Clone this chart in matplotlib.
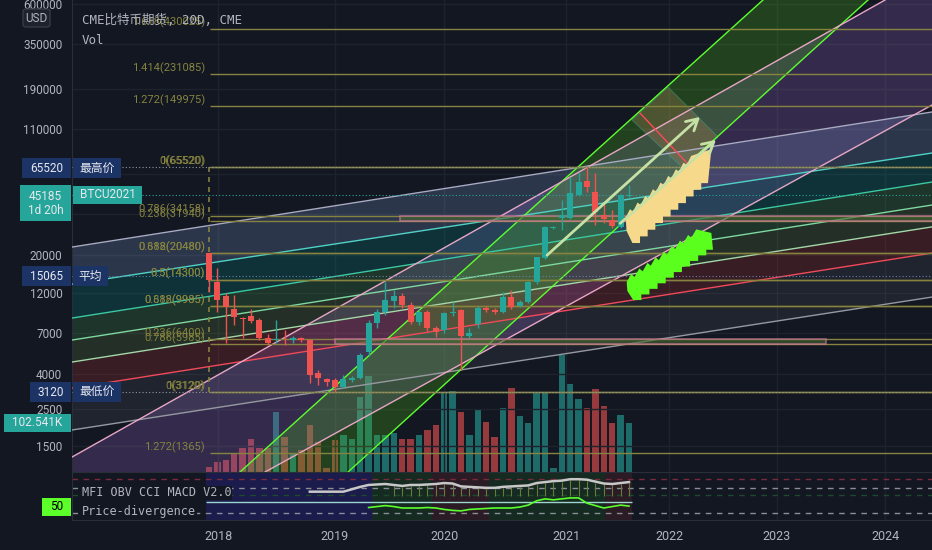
import numpy as np
import matplotlib.pyplot as plt
from matplotlib.patches import Rectangle, Polygon, FancyBboxPatch

plt.rcParams['font.family'] = ['Roboto', 'Noto Sans CJK SC', 'DejaVu Sans']

# ---------------------------------------------------------------
# data : CME bitcoin futures, 20 day bars (bar index 0 = Dec 2017)
# ---------------------------------------------------------------
opens = [20570, 13880, 11490, 9630, 8550, 8760, 8300, 6500, 6330, 6450,
         6330, 6480, 6350, 4050, 3750, 3700, 3350, 3700, 3800, 5370,
         7970, 9250, 10700, 11490, 10170, 8090, 9250, 7450, 7250, 9100,
         9500, 6700, 7830, 9760, 9500, 9250, 11350, 10060, 10610, 13880,
         19200, 28900, 33000, 33000, 45100, 54500, 47000, 34400, 32100, 29300,
         44500]
highs = [20570, 16800, 12000, 11680, 8600, 9630, 8500, 6870, 8300, 7250,
         6700, 6600, 6450, 4220, 3800, 3800, 3950, 3900, 5300, 8300,
         9600, 13880, 12460, 12000, 10600, 9600, 9500, 7700, 9300, 10600,
         9700, 7500, 10100, 10000, 9800, 12130, 12460, 10900, 14100, 19600,
         29500, 29800, 42200, 57500, 60800, 65520, 60800, 40500, 36800, 46000,
         51700]
lows = [12130, 9250, 6075, 7760, 6500, 7970, 6330, 5900, 6075, 5900,
        6075, 6200, 3560, 3440, 3400, 3120, 3300, 3600, 3750, 5100,
        7500, 8900, 9800, 9800, 7900, 7800, 7200, 6600, 7000, 8800,
        4220, 6500, 7500, 9300, 9000, 9100, 9700, 9900, 10400, 13600,
        18900, 28500, 28100, 32500, 44500, 47000, 30000, 30900, 28900, 29000,
        43900]
closes = [14260, 10880, 9900, 8650, 8450, 8190, 6500, 6075, 6450, 6380,
          6500, 6350, 3940, 3800, 3570, 3350, 3750, 3800, 5180, 7970,
          9250, 10880, 11490, 10170, 8090, 9250, 7450, 7060, 9120, 9250,
          6670, 6960, 9760, 9500, 9300, 11350, 9900, 10610, 13880, 19500,
          29300, 29300, 34400, 46400, 53700, 50300, 35800, 32500, 29600, 45100,
          45185]
volumes = [10500, 21000, 25000, 40000, 50000, 69000, 50000, 50000, 126000, 73000,
           40000, 46000, 98000, 63000, 8000, 67000, 77000, 69000, 157000, 200000,
           77000, 77000, 82000, 69000, 69000, 77000, 88000, 98000, 167000, 170000,
           126000, 77000, 132000, 105000, 73000, 134000, 176000, 117000, 102000, 165000,
           167000, 8000, 245000, 184000, 153000, 134000, 174000, 138000, 102000, 119000,
           102541]

# indicator pane (0..100 scale)
obv_start = 12
obv_line = [59, 59, 59, 59, 59, 64, 69, 73, 74, 75, 73, 71, 73, 73, 74, 75, 77, 76,
            70, 69, 68, 67, 67, 69, 70, 71, 72, 77, 79, 81, 82, 85, 85, 84, 80, 76,
            75, 77, 79]
osc_start = 19
osc_line = [26, 28, 30, 28, 25, 25, 25, 26, 25, 22, 20, 19, 22, 23, 24, 25, 25, 25,
            27, 31, 40, 44, 42, 44, 46, 46, 35, 30, 25, 28, 31, 29]

# axis ticks ('' = grid only, label hidden behind the price tags)
price_ticks = [1500, 2500, 4000, 7000, 12000, 20000, 35000, 60000, 110000,
               190000, 350000, 600000]
price_tick_labels = ['1500', '2500', '4000', '7000', '12000', '20000', '', '',
                     '110000', '190000', '350000', '600000']
year_labels = ['2018', '2019', '2020', '2021', '2022', '2023', '2024']
year_bars = [1.1, 15.0, 28.0, 42.5, 54.8, 67.6, 80.5]

# fibonacci retracement tools (log scale, 3120 -> 65520)
fib_up = [('0(3120)', 3120), ('0.236(6400)', 6400), ('0.382(9985)', 9985),
          ('0.5(14300)', 14300), ('0.618(20480)', 20480), ('0.786(34158)', 34158),
          ('1(65520)', 65520), ('1.272(149975)', 149975), ('1.414(231085)', 231085),
          ('1.618(430025)', 430025)]
fib_down = [('0(65520)', 65520), ('0.236(31940)', 31940), ('0.382(20480)', 20480),
            ('0.5(14300)', 14300), ('0.618(9985)', 9985), ('0.786(5985)', 5985),
            ('1(3120)', 3120), ('1.272(1365)', 1365)]

# drawing tools (bar, price)
XL, XR = -16.31, 86.07
chan_left = [22300, 13510, 8525, 6330, 4700, 3300, 1872]
chan_right = [138900, 79700, 53800, 39400, 29300, 20570, 11330]
chan_line_col = ['#a9abc4', '#4fd1c5', '#3cc8a0', '#7fd8a0', '#a5d6a7', '#f04a5a', '#9598a1']
chan_fill = [('#7896c8', .25), ('#009688', .22), ('#4caf50', .20), ('#8bc34a', .15),
             ('#e53935', .18), ('#9598a1', .10)]
pink_a = ([XL, 80.48], [1298, 633000])
pink_b = ([6.67, XR], [1060, 152700])

# -------------------------------------------------
bg = '#131722'
olive = '#85833f'
txt = '#b2b5be'
up_c, dn_c = '#26a69a', '#ef5350'

fig = plt.figure(figsize=(9.32, 5.5), dpi=100, facecolor=bg)
W, H = 932.0, 550.0
rect = [72 / W, 78 / H, 860 / W, 472 / H]

axv = fig.add_axes(rect)
axv.set_facecolor(bg)
ax = fig.add_axes(rect, sharex=axv)
ax.patch.set_alpha(0)
ax2 = fig.add_axes([72 / W, 30 / H, 860 / W, 48 / H], sharex=axv)
ax2.set_facecolor(bg)

ax.set_yscale('log')
ax.set_xlim(XL, XR)
ax.set_ylim(1060, 633000)
axv.set_ylim(0, 987700)
axv.set_yticks([])
axv.tick_params(axis='x', bottom=False, labelbottom=False)
for s in axv.spines.values():
    s.set_visible(False)

# grid
for t in price_ticks:
    ax.axhline(t, color='#1e222d', lw=1, zorder=0)
for b in year_bars:
    ax.axvline(b, color='#1e222d', lw=1, zorder=0)
    ax2.axvline(b, color='#1e222d', lw=1, zorder=0)

idx = np.arange(len(closes))

# volume
vcols = [up_c if c >= o else dn_c for o, c in zip(opens, closes)]
axv.bar(idx, volumes, width=0.75, color=vcols, alpha=0.6, zorder=2)

# purple band between the two steep pink lines
ax.add_patch(Polygon([(pink_a[0][0], pink_a[1][0]), (pink_a[0][1], pink_a[1][1]), (XR, 633000),
                      (pink_b[0][1], pink_b[1][1]), (pink_b[0][0], pink_b[1][0]), (XL, 1060)],
                     closed=True, fc='#a06ed2', alpha=0.24, ec='none', zorder=1))

# parallel channel fills + lines
xs = np.array([XL, XR])
for k in range(len(chan_left) - 1):
    c, a = chan_fill[k]
    ax.fill_between(xs, [chan_left[k], chan_right[k]], [chan_left[k + 1], chan_right[k + 1]],
                    color=c, alpha=a, lw=0, zorder=1)
for k in range(len(chan_left)):
    ax.plot(xs, [chan_left[k], chan_right[k]], color=chan_line_col[k], lw=1, zorder=3)

# green rising channel
g_up = ([3.69, 65.95], [1060, 633000])
g_lo = ([16.55, 78.45], [1060, 633000])
ax.add_patch(Polygon([(3.69, 1060), (65.95, 633000), (78.45, 633000), (16.55, 1060)],
                     closed=True, fc='#52c41a', alpha=0.25, ec='none', zorder=1))
ax.plot(*g_up, color='#5cff2e', lw=1, zorder=3)
ax.plot(*g_lo, color='#5cff2e', lw=1, zorder=3)

# pink fan lines
ax.plot(*pink_a, color='#e9a6c6', lw=1, zorder=3)
ax.plot(*pink_b, color='#e9a6c6', lw=1, zorder=3)

# perpendicular box near the top
ax.add_patch(Polygon([(50.36, 124600), (54.64, 194800), (60.6, 98960), (56.43, 65060)],
                     closed=True, fc='#a07a50', alpha=0.35, ec='#3fb5a5', lw=0.8, zorder=2))
ax.plot([51.3, 56.9], [137000, 69600], color='#ff4a5a', lw=1, zorder=3)

# fib lines
for lab, p in fib_up + fib_down:
    ax.hlines(p, 0.1, XR, color=olive, lw=1, zorder=3)
    ax.annotate(lab, (-0.5, p), xytext=(0, 4.5), textcoords='offset points',
                ha='right', va='center', color=olive, fontsize=8, zorder=4)
ax.vlines(0.0, 3120, 65520, color=olive, lw=1.2, linestyles=(0, (3, 3)), zorder=3)

# highlighted zones
ax.add_patch(Rectangle((22.7, 31940), XR - 22.7 + 1, 34158 - 31940, fc='#4a6a30', alpha=0.6,
                       ec='#e57bb0', lw=1.2, zorder=3))
ax.add_patch(Rectangle((15.0, 5985), 73.5 - 15.0, 6400 - 5985, fc='#4a6a30', alpha=0.6,
                       ec='#e57bb0', lw=1.2, zorder=3))

# price lines
ax.axhline(65520, color='#9598a1', lw=0.8, ls=(0, (1, 2)), zorder=3)
ax.axhline(45185, color='#26a69a', lw=0.8, ls=(0, (1, 2)), zorder=3)
ax.axhline(15065, color='#6a7fa8', lw=0.8, ls=(0, (1, 2)), zorder=3)
ax.axhline(3120, color='#9598a1', lw=0.8, ls=(0, (1, 2)), zorder=3)

# candles
for i in idx:
    o, h, l, c = opens[i], highs[i], lows[i], closes[i]
    col = up_c if c >= o else dn_c
    ax.vlines(i, l, h, color=col, lw=1, zorder=5)
    lo_b, hi_b = min(o, c), max(o, c)
    if hi_b / lo_b < 1.012:
        hi_b = lo_b * 1.012
    ax.bar(i, hi_b - lo_b, bottom=lo_b, width=0.72, color=col, zorder=6)


# stepped arrows (built in bar / log10 price space)
def stair_arrow(b0, p0, b1, p1, n, thick, color, tip):
    l0, l1 = np.log10(p0), np.log10(p1)
    db, dl = (b1 - b0) / n, (l1 - l0) / n
    pts = [(b0 - 0.7, l0 + thick * 0.45), (b0, l0)]
    for k in range(n):
        pts.append((b0 + (k + 1) * db, l0 + k * dl))
        pts.append((b0 + (k + 1) * db, l0 + (k + 1) * dl))
    pts.append((b1 + 0.8, l1))
    pts.append(tip)
    # saw-toothed upper edge back to the tail
    for k in range(n, 0, -1):
        pts.append((b0 + k * db - 1.2, l0 + k * dl + thick))
        pts.append((b0 + (k - 0.6) * db - 1.2, l0 + (k - 0.6) * dl + thick - 0.03))
    pts.append((b0 - 0.8, l0 + thick))
    pts = [(x, 10 ** y) for x, y in pts]
    ax.add_patch(Polygon(pts, closed=True, fc=color, ec='none', zorder=7))


stair_arrow(50.4, 23550, 58.6, 53000, 9, 0.16, '#f6d98a', (59.8, np.log10(84000)))
stair_arrow(50.5, 10880, 59.2, 21500, 9, 0.12, '#5aff1e', (59.8, np.log10(27000)))

for (b0, p0, b1, p1) in [(40.0, 19480, 58.7, 133300), (48.7, 30000, 60.6, 97650)]:
    ax.annotate('', xy=(b1, p1), xytext=(b0, p0),
                arrowprops=dict(arrowstyle='->,head_length=0.8,head_width=0.45',
                                color='#c5e1a5', lw=2), zorder=8)

# axes cosmetics
ax.set_yticks(price_ticks)
ax.set_yticklabels(price_tick_labels)
ax.yaxis.set_minor_locator(plt.NullLocator())
ax.tick_params(axis='y', length=0, pad=7, labelsize=8.5, labelcolor=txt)
ax.tick_params(axis='x', bottom=False, labelbottom=False)
for s in ['top', 'right', 'bottom']:
    ax.spines[s].set_visible(False)
ax.spines['left'].set_color('#2a2e39')

# indicator pane
ax2.set_ylim(0, 100)
ax2.set_yticks([])
for b0, b1, c in [(-0.3, 19.4, '#1b1b4c'), (19.4, 26.6, '#152a20'), (26.6, 33.3, '#2a1b25'),
                  (33.3, 47.1, '#152a20'), (47.1, 50.4, '#2a1b25')]:
    ax2.axvspan(b0, b1, color=c, lw=0, zorder=0)
ax2.axhline(85, color='#7a2a3a', lw=1, ls=(0, (4, 4)), zorder=1)
ax2.axhline(67, color='#8a8e99', lw=1, ls=(0, (4, 4)), zorder=1)
ax2.axhline(53, color='#1d4a2a', lw=1, ls=(0, (4, 4)), zorder=1)
ax2.axhline(15, color='#8a8e99', lw=1, ls=(0, (4, 4)), zorder=1)
ax2.hlines(37.5, -0.3, 50.4, color='#9ed5d0', lw=1, zorder=2)
ox = np.arange(obv_start, obv_start + len(obv_line))
ax2.vlines(ox[10:], 50, np.array(obv_line[10:]) - 2, colors='#6b7a3a', lw=0.8, zorder=2)
ax2.plot(ox, obv_line, color='#c8c8c8', lw=1.8, zorder=3)
gx = np.arange(osc_start, osc_start + len(osc_line))
ax2.plot(gx, osc_line, color='#5cff2e', lw=1.2, zorder=3)
ax2.set_xticks(year_bars)
ax2.set_xticklabels(year_labels)
ax2.tick_params(axis='x', length=0, pad=7, labelsize=9, labelcolor=txt)
ax2.spines['right'].set_visible(False)
ax2.spines['left'].set_color('#2a2e39')
ax2.spines['top'].set_color('#2a2e39')
ax2.spines['bottom'].set_color('#2a2e39')

mono = ['DejaVu Sans Mono', 'Noto Sans CJK SC']
fig.text(82 / W, 1 - 20 / H, 'CME比特币期货, 20D, CME', family=mono, color=txt,
         fontsize=9, va='center', ha='left')
fig.text(82 / W, 1 - 40 / H, 'Vol', family=mono, color=txt, fontsize=9, va='center')
fig.text(82 / W, 1 - 493 / H, 'MFI OBV CCI MACD V2.0', family=mono, color=txt, fontsize=8.5,
         va='center', bbox=dict(fc=bg, ec='none', pad=0.5))
fig.text(82 / W, 1 - 512 / H, 'Price-divergence', family=mono, color=txt, fontsize=8.5,
         va='center', bbox=dict(fc=bg, ec='none', pad=0.5))


# left side labels
def tag(x0, x1, y0, y1, text, fc, tc='#e6e8ee', fs=8.5):
    fig.patches.append(Rectangle((x0 / W, 1 - y1 / H), (x1 - x0) / W, (y1 - y0) / H,
                                 transform=fig.transFigure, fc=fc, ec='none', zorder=5))
    fig.text((x0 + x1) / 2 / W, 1 - (y0 + y1) / 2 / H, text, color=tc, fontsize=fs,
             ha='center', va='center', zorder=6, linespacing=1.1)


fig.patches.append(FancyBboxPatch((23 / W, 1 - 27 / H), 27 / W, 18 / H,
                                  boxstyle='round,pad=0,rounding_size=0.004',
                                  transform=fig.transFigure, fc='#1e222d', ec='#363a45', zorder=5))
fig.text(36.5 / W, 1 - 18 / H, 'USD', color=txt, fontsize=8.5, ha='center', va='center', zorder=6)
navy = '#1c3366'
teal = '#26a69a'
tag(22, 71, 158, 178, '65520', navy)
tag(73, 121, 158, 178, '最高价', navy)
tag(20, 71, 185, 221, '45185\n1d 20h', teal)
tag(73, 142, 186, 204, 'BTCU2021', teal)
tag(22, 71, 266, 286, '15065', navy)
tag(73, 108, 266, 286, '平均', navy)
tag(30, 71, 382, 402, '3120', navy)
tag(73, 121, 382, 402, '最低价', navy)
tag(4, 71, 414, 432, '102.541K', teal)
tag(42, 71, 498, 516, '50', '#5dff2a', tc='#000000')

fig.savefig('out.png', dpi=100, facecolor=bg)
